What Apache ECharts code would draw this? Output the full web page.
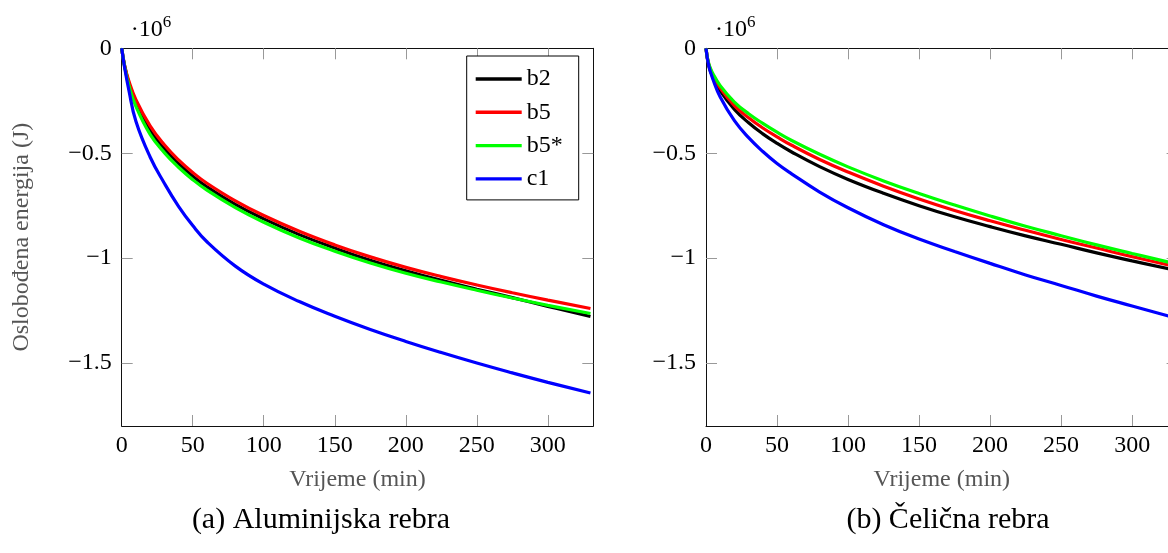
<!DOCTYPE html>
<html>
<head>
<meta charset="utf-8">
<script src="https://cdn.jsdelivr.net/npm/echarts@6/dist/echarts.min.js"></script>
<style>
html,body{margin:0;padding:0;background:#fff;}
#c{width:1168px;height:553px;}
</style>
</head>
<body>
<div id="c"></div>
<script>
// time (min)
const t = [0, 2, 5, 10, 20, 30, 40, 50, 60, 80, 100, 125, 150, 175, 200, 225, 250, 275, 300, 330];
// (a) Aluminijska rebra, energy in 1e6 J
const alB2  = [0, -0.082, -0.165, -0.26, -0.39, -0.478, -0.549, -0.609, -0.66, -0.744, -0.813, -0.888, -0.952, -1.01, -1.06, -1.106, -1.148, -1.188, -1.23, -1.278];
const alB5  = [0, -0.08, -0.155, -0.245, -0.37, -0.46, -0.532, -0.592, -0.643, -0.727, -0.797, -0.872, -0.937, -0.994, -1.044, -1.088, -1.128, -1.165, -1.2, -1.24];
const alB5s = [0, -0.085, -0.175, -0.277, -0.41, -0.497, -0.567, -0.626, -0.676, -0.759, -0.829, -0.904, -0.967, -1.023, -1.072, -1.114, -1.153, -1.19, -1.225, -1.264];
const alC1  = [0, -0.09, -0.198, -0.348, -0.518, -0.643, -0.753, -0.845, -0.922, -1.038, -1.124, -1.207, -1.277, -1.34, -1.397, -1.45, -1.5, -1.547, -1.592, -1.643];
// (b) Čelična rebra
const stB2  = [0, -0.085, -0.139, -0.203, -0.291, -0.355, -0.408, -0.453, -0.493, -0.564, -0.625, -0.691, -0.75, -0.803, -0.85, -0.894, -0.934, -0.975, -1.013, -1.057];
const stB5  = [0, -0.078, -0.13, -0.19, -0.273, -0.331, -0.38, -0.422, -0.461, -0.53, -0.59, -0.657, -0.718, -0.773, -0.822, -0.867, -0.911, -0.952, -0.993, -1.039];
const stB5s = [0, -0.075, -0.122, -0.178, -0.256, -0.312, -0.358, -0.4, -0.438, -0.505, -0.565, -0.632, -0.692, -0.747, -0.799, -0.848, -0.893, -0.937, -0.978, -1.026];
const stC1  = [0, -0.085, -0.15, -0.232, -0.345, -0.426, -0.492, -0.549, -0.597, -0.685, -0.76, -0.841, -0.909, -0.968, -1.025, -1.08, -1.13, -1.181, -1.228, -1.284];

const names = ['b2', 'b5', 'b5*', 'c1'];
const colors = ['#000000', '#ff0000', '#00ff00', '#0000ff'];
const xTicks = [0, 50, 100, 150, 200, 250, 300];
const yTicks = [0, -0.5, -1, -1.5];
const captions = ['(a) Aluminijska rebra', '(b) Čelična rebra'];
const xTitle = 'Vrijeme (min)';
const yTitle = 'Oslobođena energija (J)';

const FONT = '"Liberation Serif", "DejaVu Serif", serif';
const FS = 24;

const chart = echarts.init(document.getElementById('c'), null, {renderer: 'canvas'});

const gridL = [121.7, 706];
const grids = gridL.map(l => ({left: l, top: 48.3, width: 471.6, height: 377.7, outerBoundsMode: 'none', containLabel: false}));

function fmtY(v) {
  if (Math.abs(v) < 1e-9) return '0';
  return (v < 0 ? '\u2212' : '') + Math.abs(v);
}

const xAxes = [], yAxes = [];
for (let g = 0; g < 2; g++) {
  xAxes.push({
    type: 'value', gridIndex: g, position: 'bottom', min: 0, max: 332, interval: 50,
    name: xTitle, nameLocation: 'middle', nameGap: 42,
    nameTextStyle: {color: '#555', fontSize: FS, fontFamily: FONT},
    axisLine: {show: true, onZero: false, lineStyle: {color: '#111', width: 1}},
    axisTick: {show: true, inside: true, length: 11, customValues: xTicks.slice(1), lineStyle: {color: '#999', width: 1}},
    axisLabel: {show: true, customValues: xTicks, color: '#000', fontSize: FS, fontFamily: FONT, margin: 8},
    splitLine: {show: false}
  });
  xAxes.push({
    type: 'value', gridIndex: g, position: 'top', min: 0, max: 332, interval: 50,
    axisLine: {show: true, onZero: false, lineStyle: {color: '#111', width: 1}},
    axisTick: {show: true, inside: true, length: 11, customValues: xTicks.slice(1), lineStyle: {color: '#999', width: 1}},
    axisLabel: {show: false},
    splitLine: {show: false}
  });
  yAxes.push({
    type: 'value', gridIndex: g, position: 'left', min: -1.8, max: 0,
    name: g === 0 ? yTitle : '', nameLocation: 'middle', nameGap: 88, nameRotate: 90,
    nameTextStyle: {color: '#555', fontSize: FS, fontFamily: FONT},
    axisLine: {show: true, onZero: false, lineStyle: {color: '#111', width: 1}},
    axisTick: {show: true, inside: true, length: 11, customValues: yTicks.slice(1), lineStyle: {color: '#999', width: 1}},
    axisLabel: {show: true, customValues: yTicks, formatter: fmtY, color: '#000', fontSize: FS, fontFamily: FONT, margin: 10},
    splitLine: {show: false}
  });
  yAxes.push({
    type: 'value', gridIndex: g, position: 'right', min: -1.8, max: 0,
    axisLine: {show: true, onZero: false, lineStyle: {color: '#111', width: 1}},
    axisTick: {show: true, inside: true, length: 11, customValues: yTicks.slice(1), lineStyle: {color: '#999', width: 1}},
    axisLabel: {show: false},
    splitLine: {show: false}
  });
}

const panels = [[alB2, alB5, alB5s, alC1], [stB2, stB5, stB5s, stC1]];
const series = [];
panels.forEach((arrs, g) => {
  arrs.forEach((arr, i) => {
    series.push({
      type: 'line', name: names[i], xAxisIndex: g * 2, yAxisIndex: g * 2,
      data: t.map((x, k) => [x, arr[k]]),
      showSymbol: false, symbol: 'none', smooth: 0.45,
      lineStyle: {color: colors[i], width: 3.2}, itemStyle: {color: colors[i]},
      clip: true, animation: false, z: 2 + i
    });
  });
});

const graphics = [];
captions.forEach((c, g) => {
  graphics.push({type: 'text', x: g === 0 ? 321 : 948, y: 520,
    style: {text: c, fontSize: 30, fontFamily: FONT, fill: '#000', align: 'center', verticalAlign: 'middle'}});
});
gridL.forEach((l) => {
  graphics.push({type: 'text', x: l + 9, y: 30,
    style: {text: '·10', fontSize: FS, fontFamily: FONT, fill: '#000', align: 'left', verticalAlign: 'middle'}});
  graphics.push({type: 'text', x: l + 41, y: 23,
    style: {text: '6', fontSize: 17, fontFamily: FONT, fill: '#000', align: 'left', verticalAlign: 'middle'}});
});

chart.setOption({
  backgroundColor: '#fff',
  animation: false,
  grid: grids,
  xAxis: xAxes,
  yAxis: yAxes,
  legend: {
    show: true, orient: 'vertical', left: 466.7, top: 56,
    data: names.map(n => ({name: n, icon: 'rect'})), padding: [11, 16, 9, 9], itemGap: 9.3, itemWidth: 46, itemHeight: 3.4,
    backgroundColor: '#fff', borderColor: '#000', borderWidth: 1, borderRadius: 0,
    textStyle: {color: '#000', fontSize: FS, fontFamily: FONT, lineHeight: 24},
    selectedMode: false
  },
  series: series,
  graphic: graphics
});
</script>
</body>
</html>
